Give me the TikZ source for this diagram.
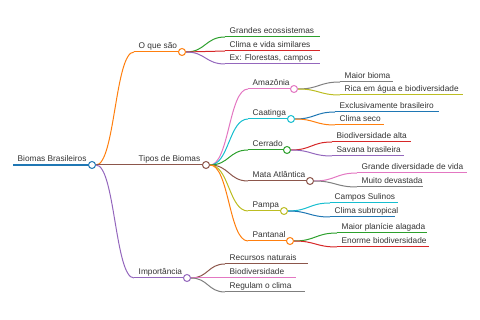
\documentclass[tikz,border=0pt]{standalone}
\usepackage{fontspec}
\setmainfont{Liberation Sans}
\usetikzlibrary{calc}
\definecolor{cA}{HTML}{1F77B4}
\definecolor{cB}{HTML}{FF7F0E}
\definecolor{cC}{HTML}{2CA02C}
\definecolor{cD}{HTML}{D62728}
\definecolor{cE}{HTML}{9467BD}
\definecolor{cF}{HTML}{8C564B}
\definecolor{cG}{HTML}{E377C2}
\definecolor{cH}{HTML}{7F7F7F}
\definecolor{cI}{HTML}{BCBD22}
\definecolor{cJ}{HTML}{17BECF}
\definecolor{txt}{HTML}{333333}
\pgfdeclarelayer{bg}
\pgfsetlayers{bg,main}
\tikzset{
  lbl/.style={font=\fontsize{8.3}{10}\selectfont, text=txt, inner sep=0pt, anchor=base west},
  uline/.style={line width=1pt},
  knob/.style={circle, fill=white, line width=1pt, inner sep=0pt, minimum size=7pt},
  link/.style={line width=1pt}
}
% name, xstart, xend, y, color, text
\newcommand\mmleaf[6]{%
  \coordinate (#1s) at (#2,#4);
  \coordinate (#1e) at (#3,#4);
  \node[lbl] (#1) at ($(#1s)+(4.5,-3.5)$) {#6};
  \begin{pgfonlayer}{bg}\draw[#5, uline] (#1s) -- (#1e);\end{pgfonlayer}
}
\newcommand\mmbranch[6]{%
  \mmleaf{#1}{#2}{#3}{#4}{#5}{#6}%
  \node[knob, draw=#5] (#1c) at (#1e) {};
}
% parent, child, color
\newcommand\mmlink[3]{%
  \coordinate (#1#2m) at ($(#1c.east)!0.5!(#2s)$);
  \begin{pgfonlayer}{bg}
  \draw[#3, link] (#1c.east) .. controls (#1c.east -| #1#2m) and (#2s -| #1#2m) .. (#2s);
  \end{pgfonlayer}
}
\begin{document}
\begin{tikzpicture}[x=1pt,y=-1pt]
\useasboundingbox (0,0) rectangle (480,320);
% root
\mmbranch{root}{13}{92}{165}{cA}{Biomas Brasileiros}
\begin{pgfonlayer}{bg}\draw[cA, line width=1.5pt] (roots) -- (roote);\end{pgfonlayer}
% level 1
\mmbranch{oq}{134}{182}{52}{cB}{O que são}
\mmbranch{tp}{134}{206}{165}{cF}{Tipos de Biomas}
\mmbranch{im}{134}{187}{278}{cE}{Importância}
\mmlink{root}{oq}{cB}
\mmlink{root}{tp}{cF}
\mmlink{root}{im}{cE}
% O que são
\mmleaf{ga}{225}{320}{37}{cC}{Grandes ecossistemas}
\mmleaf{gb}{225}{320}{51}{cD}{Clima e vida similares}
\mmleaf{gc}{225}{320}{64}{cE}{Ex: Florestas, campos}
\mmlink{oq}{ga}{cC}
\mmlink{oq}{gb}{cD}
\mmlink{oq}{gc}{cE}
% Tipos
\mmbranch{am}{248}{294}{89}{cG}{Amazônia}
\mmbranch{ca}{248}{291}{119}{cJ}{Caatinga}
\mmbranch{ce}{248}{287}{150}{cC}{Cerrado}
\mmbranch{ma}{248}{310}{181}{cF}{Mata Atlântica}
\mmbranch{pa}{248}{284}{211}{cI}{Pampa}
\mmbranch{pt}{248}{290}{241}{cB}{Pantanal}
\mmlink{tp}{am}{cG}
\mmlink{tp}{ca}{cJ}
\mmlink{tp}{ce}{cC}
\mmlink{tp}{ma}{cF}
\mmlink{tp}{pa}{cI}
\mmlink{tp}{pt}{cB}
% Amazônia
\mmleaf{aa}{340}{393}{82}{cH}{Maior bioma}
\mmleaf{ab}{340}{463}{95}{cI}{Rica em água e biodiversidade}
\mmlink{am}{aa}{cH}
\mmlink{am}{ab}{cI}
% Caatinga
\mmleaf{cba}{335}{439}{112}{cA}{Exclusivamente brasileiro}
\mmleaf{cbb}{335}{384}{125}{cB}{Clima seco}
\mmlink{ca}{cba}{cA}
\mmlink{ca}{cbb}{cB}
% Cerrado
\mmleaf{cea}{332}{411}{142}{cD}{Biodiversidade alta}
\mmleaf{ceb}{332}{404}{156}{cE}{Savana brasileira}
\mmlink{ce}{cea}{cD}
\mmlink{ce}{ceb}{cE}
% Mata Atlântica
\mmleaf{maa}{357}{467}{173}{cG}{Grande diversidade de vida}
\mmleaf{mab}{357}{423}{187}{cH}{Muito devastada}
\mmlink{ma}{maa}{cG}
\mmlink{ma}{mab}{cH}
% Pampa
\mmleaf{paa}{330}{398}{203}{cJ}{Campos Sulinos}
\mmleaf{pab}{330}{395}{217}{cA}{Clima subtropical}
\mmlink{pa}{paa}{cJ}
\mmlink{pa}{pab}{cA}
% Pantanal
\mmleaf{pta}{337}{427}{233}{cC}{Maior planície alagada}
\mmleaf{ptb}{337}{429}{247}{cD}{Enorme biodiversidade}
\mmlink{pt}{pta}{cC}
\mmlink{pt}{ptb}{cD}
% Importância
\mmleaf{ia}{225}{308}{264}{cF}{Recursos naturais}
\mmleaf{ib}{225}{296}{278}{cG}{Biodiversidade}
\mmleaf{ic}{225}{305}{292}{cH}{Regulam o clima}
\mmlink{im}{ia}{cF}
\mmlink{im}{ib}{cG}
\mmlink{im}{ic}{cH}
\end{tikzpicture}
\end{document}
